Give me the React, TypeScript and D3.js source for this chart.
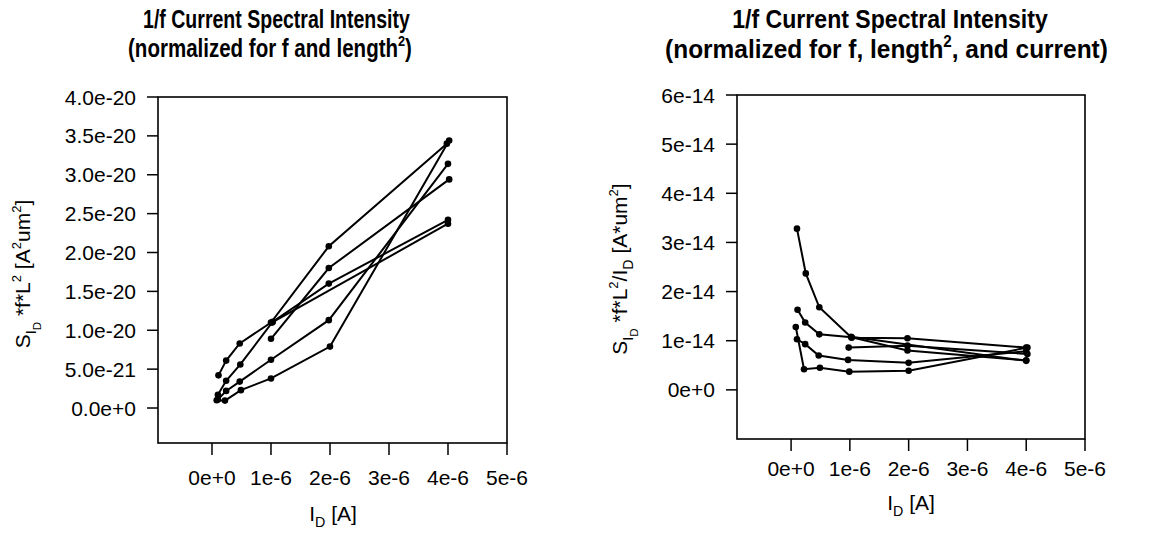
import React, { useEffect, useRef } from 'react';
import * as d3 from 'd3';

// drain current I_D in uA
const currentTicks = [0, 1, 2, 3, 4, 5];
const currentTickLabels = ['0e+0', '1e-6', '2e-6', '3e-6', '4e-6', '5e-6'];

// left panel: S_Id*f*L^2 in 1e-20 A^2um^2
const spectralTicks = [0, 0.5, 1, 1.5, 2, 2.5, 3, 3.5, 4];
const spectralTickLabels = ['0.0e+0', '5.0e-21', '1.0e-20', '1.5e-20', '2.0e-20', '2.5e-20', '3.0e-20', '3.5e-20', '4.0e-20'];

const spectralA = [[0.11, 0.42], [0.24, 0.61], [0.47, 0.83], [1.0, 1.1], [1.98, 2.08], [3.98, 3.4]];
const spectralB = [[0.1, 0.17], [0.24, 0.35], [0.48, 0.56], [1.03, 1.11], [1.98, 1.6], [4.0, 2.42]];
const spectralC = [[1.0, 0.89], [1.98, 1.8], [4.02, 2.94]];
const spectralD = [[0.1, 0.11], [0.24, 0.22], [0.47, 0.34], [1.0, 0.62], [1.98, 1.13], [4.0, 3.14]];
const spectralE = [[0.08, 0.1], [0.22, 0.095], [0.49, 0.23], [1.0, 0.38], [2.0, 0.79], [4.02, 3.44]];
const spectralF = [[1.02, 1.1], [4.0, 2.37]];

// right panel: S_Id*f*L^2/I_D in 1e-14 A*um^2
const normTicks = [0, 1, 2, 3, 4, 5, 6];
const normTickLabels = ['0e+0', '1e-14', '2e-14', '3e-14', '4e-14', '5e-14', '6e-14'];

const normA = [[0.1, 3.28], [0.25, 2.37], [0.48, 1.68], [1.03, 1.06], [1.98, 1.05], [4.0, 0.86]];
const normB = [[0.11, 1.63], [0.24, 1.37], [0.48, 1.13], [1.03, 1.07], [1.98, 0.8], [4.0, 0.6]];
const normC = [[0.98, 0.86], [1.98, 0.9], [4.02, 0.73]];
const normD = [[0.1, 1.03], [0.24, 0.93], [0.47, 0.7], [0.97, 0.61], [2.0, 0.55], [4.0, 0.785]];
const normE = [[0.08, 1.28], [0.22, 0.42], [0.49, 0.45], [0.99, 0.37], [2.0, 0.39], [4.02, 0.86]];
const normF = [[1.02, 1.08], [4.0, 0.59]];

const FONT = '"Liberation Sans", Arial, Helvetica, sans-serif';

// segments: [text, level] level: 0 normal, 1 sup, -1 sub, -2 subsub
const addRich = (text, segs, size) => {
  const offs = { 0: 0, 1: -0.42 * size, '-1': 0.28 * size, '-2': 0.5 * size };
  const sizes = { 0: size, 1: size * 0.62, '-1': size * 0.68, '-2': size * 0.55 };
  let cur = 0;
  segs.forEach(([t, lvl]) => {
    const target = offs[lvl];
    text.append('tspan')
      .attr('dy', target - cur)
      .attr('font-size', sizes[lvl])
      .text(t);
    cur = target;
  });
};

// squeeze a centred title line into [x0, x1]
const fitWidth = (text, x0, x1) => {
  const w = text.node().getBBox().width;
  const cx = (x0 + x1) / 2;
  const s = (x1 - x0) / w;
  text.attr('x', cx).attr('transform', `translate(${cx},0) scale(${s},1) translate(${-cx},0)`);
};

const panels = [
  {
    xDomain: [-0.915, 5], yDomain: [-0.45, 4.0],
    box: { left: 158, right: 507, top: 97, bottom: 443 },
    yTicks: spectralTicks, yLabels: spectralTickLabels,
    series: [spectralA, spectralB, spectralC, spectralD, spectralE, spectralF],
    titleSize: 25, titleY: [28, 57],
    title1Span: [143, 410], title2Span: [128, 412],
    title2: [['(normalized for f and length', 0], ['2', 1], [')', 0]],
    xLabelY: 485, xTitleY: 521, xTitleX: 333,
    yTitleX: 30, yTitleY: 274,
    yTitle: [['S', 0], ['I', -1], ['D', -2], [' *f*L', 0], ['2', 1], ['  [A', 0], ['2', 1], ['um', 0], ['2', 1], [']', 0]],
  },
  {
    xDomain: [-0.92, 5], yDomain: [-1, 6],
    box: { left: 737, right: 1085, top: 95, bottom: 439 },
    yTicks: normTicks, yLabels: normTickLabels,
    series: [normA, normB, normC, normD, normE, normF],
    titleSize: 26, titleY: [28, 58],
    title1Span: [732, 1048], title2Span: [665, 1108],
    title2: [['(normalized for f, length', 0], ['2', 1], [', and current)', 0]],
    xLabelY: 476, xTitleY: 510, xTitleX: 911,
    yTitleX: 627, yTitleY: 269,
    yTitle: [['S', 0], ['I', -1], ['D', -2], [' *f*L', 0], ['2', 1], ['/I', 0], ['D', -1], ['  [A*um', 0], ['2', 1], [']', 0]],
  },
];

const App = () => {
  const svgRef = useRef(null);

  useEffect(() => {
    const svg = d3.select(svgRef.current);
    svg.selectAll('*').remove();

    panels.forEach((p) => {
      const { box } = p;
      const x = d3.scaleLinear().domain(p.xDomain).range([box.left, box.right]);
      const y = d3.scaleLinear().domain(p.yDomain).range([box.bottom, box.top]);
      const g = svg.append('g').attr('font-family', FONT);

      // titles
      const t1 = g.append('text')
        .attr('y', p.titleY[0])
        .attr('text-anchor', 'middle')
        .attr('font-weight', 'bold').attr('font-size', p.titleSize)
        .text('1/f Current Spectral Intensity');
      fitWidth(t1, p.title1Span[0], p.title1Span[1]);
      const t2 = g.append('text')
        .attr('y', p.titleY[1])
        .attr('text-anchor', 'middle')
        .attr('font-weight', 'bold');
      addRich(t2, p.title2, p.titleSize);
      fitWidth(t2, p.title2Span[0], p.title2Span[1]);

      // frame
      g.append('rect')
        .attr('x', box.left).attr('y', box.top)
        .attr('width', box.right - box.left).attr('height', box.bottom - box.top)
        .attr('fill', 'none').attr('stroke', '#000').attr('stroke-width', 1.6);

      // x ticks
      g.selectAll('.xt').data(currentTicks).enter().append('line')
        .attr('x1', (d) => x(d)).attr('x2', (d) => x(d))
        .attr('y1', box.bottom).attr('y2', box.bottom + 12)
        .attr('stroke', '#000').attr('stroke-width', 1.5);
      g.selectAll('.xl').data(currentTicks).enter().append('text')
        .attr('x', (d) => x(d)).attr('y', p.xLabelY)
        .attr('text-anchor', 'middle').attr('font-size', 21)
        .text((d, i) => currentTickLabels[i]);

      // y ticks
      g.selectAll('.yt').data(p.yTicks).enter().append('line')
        .attr('x1', box.left - 11).attr('x2', box.left)
        .attr('y1', (d) => y(d)).attr('y2', (d) => y(d))
        .attr('stroke', '#000').attr('stroke-width', 1.5);
      g.selectAll('.yl').data(p.yTicks).enter().append('text')
        .attr('x', box.left - 22).attr('y', (d) => y(d))
        .attr('dy', '0.36em')
        .attr('text-anchor', 'end').attr('font-size', 21)
        .text((d, i) => p.yLabels[i]);

      // axis titles
      const xt = g.append('text')
        .attr('x', p.xTitleX).attr('y', p.xTitleY)
        .attr('text-anchor', 'middle');
      addRich(xt, [['I', 0], ['D', -1], ['  [A]', 0]], 21);

      const yt = g.append('text')
        .attr('transform', `translate(${p.yTitleX},${p.yTitleY}) rotate(-90)`)
        .attr('text-anchor', 'middle');
      addRich(yt, p.yTitle, 21);

      // series
      const line = d3.line().x((d) => x(d[0])).y((d) => y(d[1]));
      p.series.forEach((s) => {
        g.append('path')
          .attr('d', line(s))
          .attr('fill', 'none').attr('stroke', '#000').attr('stroke-width', 2);
        g.selectAll(null).data(s).enter().append('circle')
          .attr('cx', (d) => x(d[0])).attr('cy', (d) => y(d[1]))
          .attr('r', 3.3).attr('fill', '#000');
      });
    });
  }, []);

  return (
    <svg
      ref={svgRef}
      width={1149}
      height={533}
      style={{ position: 'absolute', left: 0, top: 0, background: '#fff' }}
    />
  );
};

export default App;
